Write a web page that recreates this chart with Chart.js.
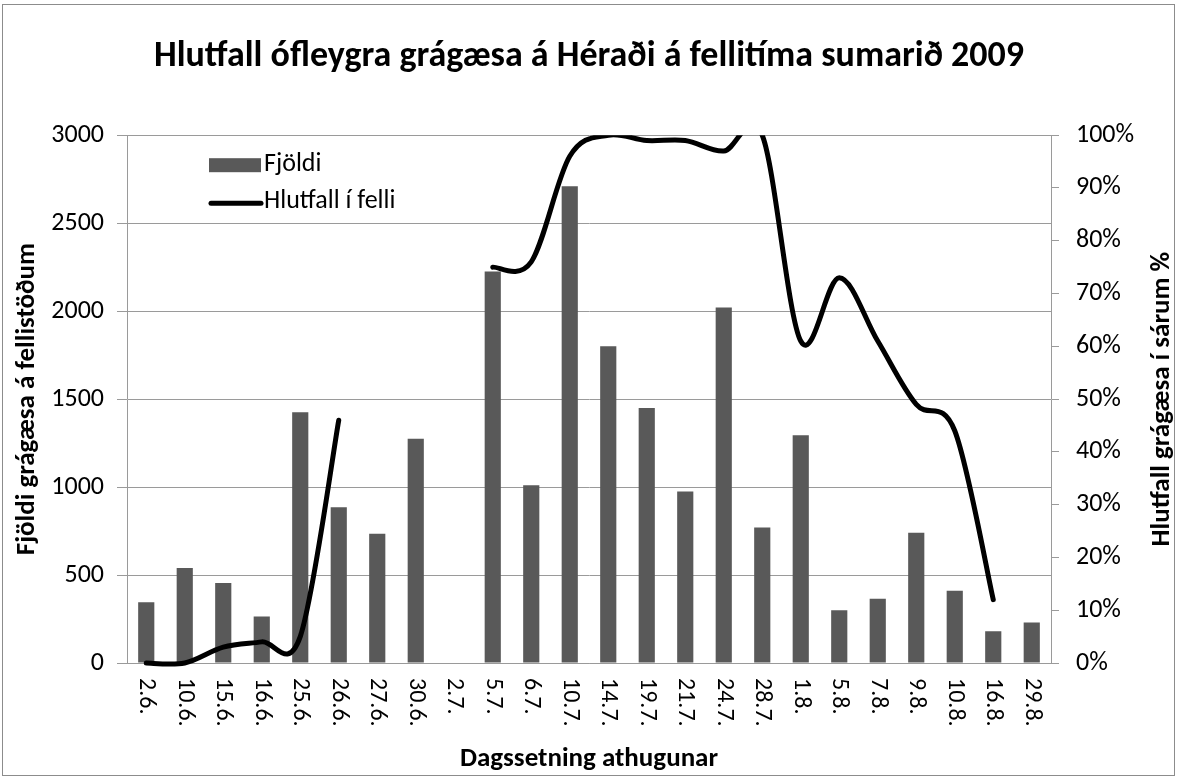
<!DOCTYPE html>
<html>
<head>
<meta charset="utf-8">
<script src="https://cdn.jsdelivr.net/npm/chart.js@4"></script>
<style>
  body { margin: 0; background: #fff; }
  #wrap { width: 1178px; height: 778px; }
</style>
</head>
<body>
<div id="wrap"><canvas id="myChart" width="1178" height="778"></canvas></div>
<script>
"use strict";
// data ------------------
const dates = ["2.6.", "10.6.", "15.6.", "16.6.", "25.6.", "26.6.", "27.6.", "30.6.", "2.7.", "5.7.", "6.7.", "10.7.",
  "14.7.", "19.7.", "21.7.", "24.7.", "28.7.", "1.8.", "5.8.", "7.8.", "9.8.", "10.8.", "16.8.", "29.8."];
const fjoldi = [345, 540, 455, 265, 1425, 885, 735, 1275, null, 2225, 1010, 2710,
  1800, 1450, 975, 2020, 770, 1295, 300, 365, 740, 410, 180, 230];
const hlutfall = [0, 0, 3, 4, 5, 46, null, null, null, 75, 76, 96,
  100, 99, 99, 97, 100, 61, 73, 61, 49, 44, 12, null];
const leftTicks = [0, 500, 1000, 1500, 2000, 2500, 3000];

const FONT = "Carlito, 'Open Sans', sans-serif";
const gridGray = "#9a9a9a";

// excel-like smoothing: uniform catmull-rom control points
const smoothing = {
  id: "smoothing",
  beforeDatasetDraw(chart, args) {
    const meta = args.meta;
    if (meta.type !== "line") return;
    const pts = meta.data;
    const ok = p => p && !p.skip;
    pts.forEach((p, i) => {
      if (!ok(p)) return;
      const prev = ok(pts[i - 1]) ? pts[i - 1] : p;
      const next = ok(pts[i + 1]) ? pts[i + 1] : p;
      const dx = (next.x - prev.x) / 6;
      const dy = (next.y - prev.y) / 6;
      p.cp1x = p.x - dx;
      p.cp1y = p.y - dy;
      p.cp2x = p.x + dx;
      p.cp2y = p.y + dy;
    });
    meta.dataset._pointsUpdated = true;
  }
};

// extra drawing: background, frame, date labels, right title, legend
const extras = {
  id: "extras",
  beforeDraw(chart) {
    const c = chart.ctx;
    c.save();
    c.fillStyle = "#fff";
    c.fillRect(0, 0, chart.width, chart.height);
    c.strokeStyle = "#8c8c8c";
    c.lineWidth = 1;
    c.strokeRect(2.5, 4.5, chart.width - 6, chart.height - 7);
    c.restore();
  },
  afterDraw(chart) {
    const c = chart.ctx;
    const area = chart.chartArea;
    const xs = chart.scales.x;
    c.save();
    // date labels, reading top to bottom
    c.fillStyle = "#000";
    c.font = "24px " + FONT;
    c.textAlign = "left";
    c.textBaseline = "middle";
    dates.forEach((d, i) => {
      c.save();
      c.translate(xs.getPixelForValue(i), area.bottom + 15);
      c.rotate(Math.PI / 2);
      c.fillText(d, 0, 0);
      c.restore();
    });
    // right axis title
    c.font = "bold 27px " + FONT;
    c.textAlign = "center";
    c.save();
    c.translate(1162, (area.top + area.bottom) / 2);
    c.rotate(-Math.PI / 2);
    c.fillText("Hlutfall grágæsa í sárum %", 0, 0);
    c.restore();
    // legend
    const lx = area.left + 82;
    c.fillStyle = "#595959";
    c.fillRect(lx, area.top + 23, 52, 14);
    c.strokeStyle = "#000";
    c.lineWidth = 5;
    c.lineCap = "round";
    c.beginPath();
    c.moveTo(lx + 2, area.top + 68);
    c.lineTo(lx + 52, area.top + 68);
    c.stroke();
    c.fillStyle = "#000";
    c.font = "26px " + FONT;
    c.textAlign = "left";
    c.fillText("Fjöldi", lx + 55, area.top + 29);
    c.fillText("Hlutfall í felli", lx + 55, area.top + 66);
    c.restore();
  }
};

const ctx = document.getElementById("myChart").getContext("2d");
const myChart = new Chart(ctx, {
  data: {
    labels: dates,
    datasets: [
      {
        type: "line",
        label: "Hlutfall í felli",
        data: hlutfall,
        yAxisID: "y2",
        borderColor: "#000",
        borderWidth: 5,
        borderCapStyle: "round",
        borderJoinStyle: "round",
        pointRadius: 0,
        tension: 0.4,
        capBezierPoints: false,
        spanGaps: false,
        clip: { left: 6, top: 0, right: 6, bottom: 6 },
        order: 0,
      },
      {
        type: "bar",
        label: "Fjöldi",
        data: fjoldi,
        yAxisID: "y",
        backgroundColor: "#595959",
        barPercentage: 0.42,
        categoryPercentage: 1,
        order: 1,
      },
    ],
  },
  options: {
    responsive: false,
    animation: false,
    layout: { padding: 0 },
    plugins: {
      legend: { display: false },
      tooltip: { enabled: false },
      title: {
        display: true,
        text: "Hlutfall ófleygra grágæsa á Héraði á fellitíma sumarið 2009",
        color: "#000",
        font: { family: FONT, size: 36, weight: "bold" },
        padding: { top: 35, bottom: 57 },
      },
    },
    scales: {
      x: {
        offset: true,
        ticks: { display: false },
        grid: { display: false },
        border: { display: true, color: gridGray },
        title: {
          display: true,
          text: "Dagssetning athugunar",
          color: "#000",
          font: { family: FONT, size: 27, weight: "bold" },
          padding: { top: 0, bottom: 3 },
        },
        afterFit(scale) { scale.height = 115; },
      },
      y: {
        position: "left",
        min: 0,
        max: 3000,
        afterBuildTicks(scale) { scale.ticks = leftTicks.map(v => ({ value: v })); },
        ticks: { color: "#000", font: { family: FONT, size: 26 }, padding: 13, callback: v => String(v) },
        grid: { color: gridGray, tickLength: 10 },
        border: { color: gridGray },
        title: {
          display: true,
          text: "Fjöldi grágæsa á fellistöðum",
          color: "#000",
          font: { family: FONT, size: 27, weight: "bold" },
          padding: { top: 11, bottom: 0 },
        },
        afterFit(scale) { scale.width = 127; },
      },
      y2: {
        position: "right",
        min: 0,
        max: 100,
        ticks: {
          stepSize: 10,
          color: "#000",
          font: { family: FONT, size: 26 },
          padding: 17,
          callback: v => v + "%",
        },
        grid: { drawOnChartArea: false, color: gridGray, tickLength: 8 },
        border: { color: gridGray },
        afterFit(scale) { scale.width = 127; },
      },
    },
  },
  plugins: [smoothing, extras],
});
</script>
</body>
</html>
